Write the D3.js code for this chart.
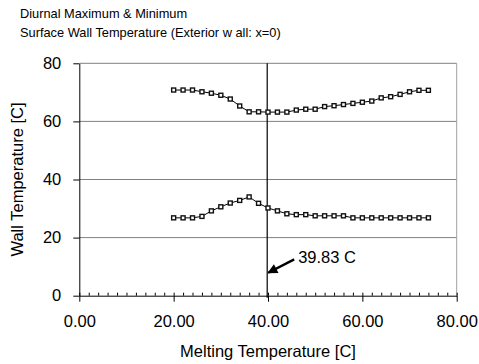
<!DOCTYPE html>
<html>
<head>
<meta charset="utf-8">
<script src="https://cdn.jsdelivr.net/npm/d3@7"></script>
<style>
  body { margin: 0; background: #fff; }
  text { font-family: "Liberation Sans", Arial, sans-serif; fill: #000; }
</style>
</head>
<body>
<script>
// melting temperatures (x)
var meltTemps = [20, 22, 24, 26, 28, 30, 32, 34, 36, 38, 40, 42, 44, 46,
                 48, 50, 52, 54, 56, 58, 60, 62, 64, 66, 68, 70, 72, 74];
// diurnal maximum surface temperature
var maxTemps = [70.8, 70.8, 70.8, 70.2, 69.7, 69.0, 67.7, 65.3, 63.3, 63.3, 63.2, 63.2, 63.2, 63.9,
                64.2, 64.2, 65.1, 65.4, 65.8, 66.2, 66.6, 67.0, 68.1, 68.5, 69.3, 70.2, 70.7, 70.7];
// diurnal minimum surface temperature
var minTemps = [26.8, 26.8, 26.8, 27.3, 29.2, 30.6, 31.9, 32.8, 34.0, 31.8, 30.2, 29.2, 28.2, 27.9,
                27.9, 27.5, 27.5, 27.5, 27.5, 26.8, 26.8, 26.8, 26.8, 26.8, 26.8, 26.8, 26.8, 26.8];
var xTicks = [0, 20, 40, 60, 80];
var yTicks = [0, 20, 40, 60, 80];
var optimum = 39.83;
var titleLines = ["Diurnal Maximum & Minimum", "Surface Wall Temperature (Exterior w all: x=0)"];

var width = 479, height = 364;
var padL = 79.3, padR = 456.7, padT = 63.3, padB = 295.7;

var svg = d3.select("body").append("svg").attr("width", width).attr("height", height);

var x = d3.scaleLinear().domain([0, 80]).range([padL, padR]);
var y = d3.scaleLinear().domain([0, 80]).range([padB, padT]);

// title
svg.append("g").selectAll("text").data(titleLines).enter().append("text")
    .attr("x", 20).attr("y", (d, i) => 18 + i * 19)
    .style("font-size", "12.8px")
    .text(d => d);

// grid lines
svg.append("g").selectAll("line").data(yTicks.filter(d => d > 0)).enter().append("line")
    .attr("x1", padL).attr("x2", padR)
    .attr("y1", d => y(d)).attr("y2", d => y(d))
    .attr("stroke", "#808080").attr("stroke-width", 1);

// right frame
svg.append("line").attr("x1", padR).attr("x2", padR).attr("y1", padT).attr("y2", padB)
    .attr("stroke", "#a0a0a0").attr("stroke-width", 1);

// minor ticks on x axis (every 2 units, pointing up)
svg.append("g").attr("transform", "translate(0," + padB + ")")
    .call(d3.axisTop(x).tickValues(d3.range(0, 81, 2)).tickSize(3).tickFormat(""))
    .call(g => g.select(".domain").remove())
    .selectAll("line").attr("stroke", "#000");

// x axis
var xAxis = svg.append("g").attr("transform", "translate(0," + padB + ")")
    .call(d3.axisBottom(x).tickValues(xTicks).tickSize(6).tickSizeOuter(0).tickPadding(14)
        .tickFormat(d3.format(".2f")));
xAxis.selectAll("text").style("font-size", "16.5px").style("font-family", "Liberation Sans, Arial, sans-serif");

// y axis
var yAxis = svg.append("g").attr("transform", "translate(" + padL + ",0)")
    .call(d3.axisLeft(y).tickValues(yTicks).tickSize(6).tickSizeOuter(0).tickPadding(12));
yAxis.selectAll("text").style("font-size", "16.5px").style("font-family", "Liberation Sans, Arial, sans-serif");

// axis titles
svg.append("text").attr("x", (padL + padR) / 2).attr("y", 357)
    .attr("text-anchor", "middle").style("font-size", "16.5px")
    .text("Melting Temperature [C]");
svg.append("text").attr("transform", "translate(23," + ((padT + padB) / 2) + ") rotate(-90)")
    .attr("text-anchor", "middle").style("font-size", "16.5px")
    .text("Wall Temperature [C]");

// vertical line at optimum melting temperature
svg.append("line").attr("x1", x(optimum)).attr("x2", x(optimum))
    .attr("y1", padT).attr("y2", padB + 2)
    .attr("stroke", "#000").attr("stroke-width", 1.2);

// series
var series = [maxTemps, minTemps];
var line = d3.line().x((d, i) => x(meltTemps[i])).y(d => y(d));

series.forEach(function (vals) {
    svg.append("path").datum(vals)
        .attr("d", line).attr("fill", "none")
        .attr("stroke", "#000").attr("stroke-width", 1);
    svg.append("g").selectAll("rect").data(vals).enter().append("rect")
        .attr("x", (d, i) => x(meltTemps[i]) - 2)
        .attr("y", d => y(d) - 2)
        .attr("width", 4).attr("height", 4)
        .attr("fill", "#fff").attr("stroke", "#111").attr("stroke-width", 1.4);
});

// annotation arrow
svg.append("defs").append("marker")
    .attr("id", "arrow").attr("viewBox", "0 0 10 10")
    .attr("refX", 9).attr("refY", 5)
    .attr("markerWidth", 5.5).attr("markerHeight", 4)
    .attr("orient", "auto")
    .append("path").attr("d", "M0,0 L10,5 L0,10 z").attr("fill", "#000");

svg.append("line")
    .attr("x1", x(optimum) + 27).attr("y1", y(12.5))
    .attr("x2", x(optimum) + 1).attr("y2", y(7.9))
    .attr("stroke", "#000").attr("stroke-width", 2.5)
    .attr("marker-end", "url(#arrow)");

svg.append("text").attr("x", x(optimum) + 31).attr("y", 263)
    .style("font-size", "16.5px")
    .text(optimum.toFixed(2) + " C");
</script>
</body>
</html>
